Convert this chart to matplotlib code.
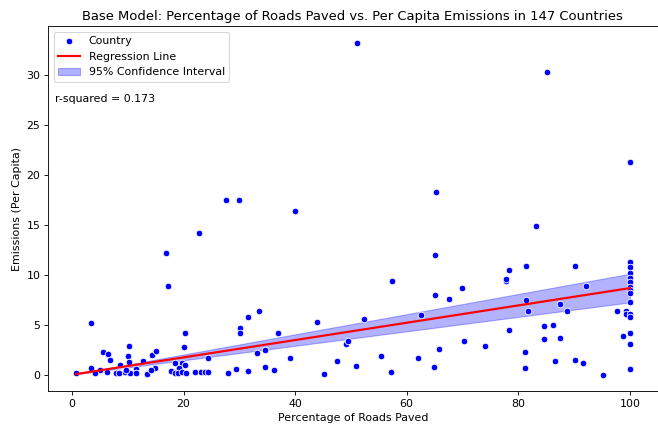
import numpy as np
import matplotlib
matplotlib.use("Agg")
import matplotlib.pyplot as plt

# percentage of roads paved vs per capita emissions
# (the low left cluster has many markers stacked on top of each other)
roads_paved = [
    0.7, 3.4, 3.4, 4.1, 5.0, 5.5, 6.4, 6.9, 6.2, 7.9, 8.6, 8.4, 9.5, 9.7,
    10.2, 10.1, 10.3, 10.4, 11.5, 11.5, 12.7, 13.4, 14.3, 15.0, 14.2, 14.9,
    16.8, 17.2, 17.8, 18.4, 19.0, 19.0, 19.7, 18.4, 19.7, 20.3, 19.2, 20.2,
    20.0, 20.5, 22.0, 22.7, 23.2, 23.8, 24.4, 24.4,
    4.1, 6.2, 7.9, 8.4, 9.5, 10.4, 11.5, 13.4, 14.2, 17.8, 18.4, 19.0,
    19.7, 20.5, 22.0, 23.2, 23.8, 24.4, 9.7, 28.0, 31.6,
    27.9, 27.7, 29.9, 29.4, 30.1, 30.2, 31.5, 31.6, 33.5, 33.2, 34.6, 34.6,
    36.3, 37.0, 39.1, 40.0, 43.9, 45.1, 47.5, 49.1, 49.4, 50.9, 51.0, 52.4,
    55.4, 57.3, 57.1,
    62.1, 62.6, 64.8, 65.7, 65.1, 65.1, 65.3, 67.5, 69.9, 70.3, 74.0, 77.7,
    77.8, 78.3, 78.4, 81.2, 81.2, 81.3, 81.4, 81.8, 83.2, 84.6, 84.6, 85.1,
    86.2, 86.5, 87.5, 87.5, 88.8, 90.2, 90.2, 91.5, 92.1, 95.2, 97.6, 98.7,
    99.3, 99.3,
    100, 100, 100, 100, 100, 100, 100, 100, 100, 100, 100, 100, 100, 100, 100,
]
emissions = [
    0.2, 5.2, 0.7, 0.2, 0.5, 2.3, 2.1, 1.5, 0.3, 0.2, 1.0, 0.2, 0.3, 0.5,
    2.9, 1.9, 1.3, 0.2, 0.6, 0.2, 1.4, 0.1, 2.0, 2.4, 0.5, 0.7,
    12.2, 8.9, 0.4, 0.2, 0.5, 0.2, 0.3, 1.2, 1.2, 1.0, 0.7, 4.2,
    2.8, 0.2, 0.3, 14.2, 0.3, 0.3, 0.3, 1.7,
    0.2, 0.3, 0.2, 0.2, 0.3, 0.2, 0.2, 0.1, 0.5, 0.4, 0.2, 0.2,
    0.3, 0.2, 0.3, 0.3, 0.3, 0.3, 0.5, 0.2, 0.4,
    0.2, 17.5, 17.5, 0.6, 4.7, 4.2, 5.8, 0.4, 6.4, 2.2, 2.5, 0.8,
    0.5, 4.2, 1.7, 16.4, 5.3, 0.1, 1.4, 3.1, 3.4, 0.9, 33.2, 5.6,
    1.9, 9.4, 0.3,
    1.7, 6.0, 0.8, 2.6, 8.0, 12.0, 18.3, 7.6, 8.7, 3.4, 2.9, 9.4,
    9.6, 10.5, 4.5, 2.3, 0.7, 10.9, 7.5, 6.4, 14.9, 4.9, 3.6, 30.3,
    5.0, 1.4, 7.1, 3.7, 6.4, 10.9, 1.5, 1.2, 8.9, 0.0, 6.4, 3.9,
    6.4, 6.1,
    21.3, 11.3, 10.8, 10.2, 9.7, 9.3, 8.8, 8.5, 8.2, 7.3, 6.1, 5.8, 4.2, 3.1, 0.6,
]

x = np.array(roads_paved)
y = np.array(emissions)

# base model has no constant: emissions = b * roads_paved
n = len(x)
slope = np.sum(x * y) / np.sum(x ** 2)
resid = y - slope * x
s_err = np.sqrt(np.sum(resid ** 2) / (n - 1))
se_slope = s_err / np.sqrt(np.sum(x ** 2))
t_val = 1.976
xs = np.linspace(x.min(), x.max(), 200)
ys = slope * xs
ci = t_val * se_slope * xs

dpi = 79
fig = plt.figure(figsize=(658 / dpi, 425 / dpi), dpi=dpi)
ax = fig.add_axes([0.0731, 0.0793, 0.9264, 0.8584])

ax.scatter(x, y, s=36, color='blue', edgecolor='white', linewidth=0.75, label='Country', zorder=3)
ax.plot(xs, ys, color='red', linewidth=2, label='Regression Line', zorder=4)
ax.fill_between(xs, ys - ci, ys + ci, color='blue', alpha=0.3, label='95% Confidence Interval', zorder=2)

ax.set_title('Base Model: Percentage of Roads Paved vs. Per Capita Emissions in 147 Countries')
ax.set_xlabel('Percentage of Roads Paved')
ax.set_ylabel('Emissions (Per Capita)')
ax.legend(loc='upper left')
ax.text(0.011, 0.80, 'r-squared = 0.173', transform=ax.transAxes, va='center')

fig.savefig('out.png', dpi=dpi)
